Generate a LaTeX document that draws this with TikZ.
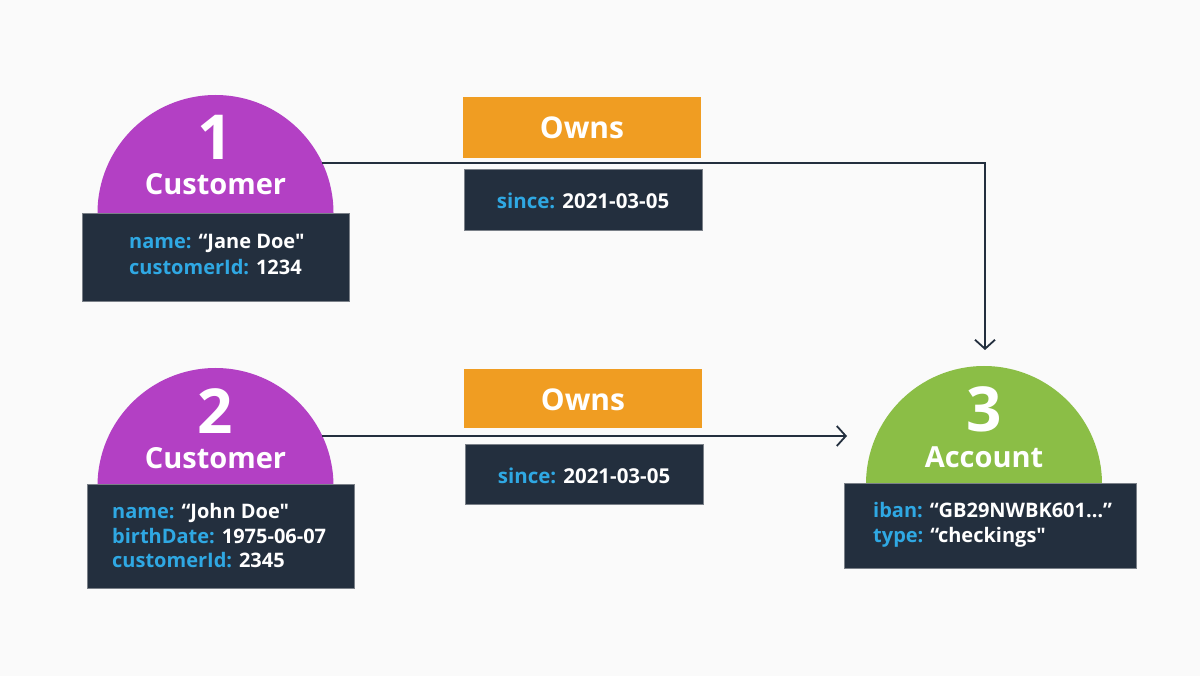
\documentclass[tikz,border=0pt]{standalone}
\usepackage{fontspec}
\newfontfamily\oss{Open Sans}
\usetikzlibrary{arrows.meta,calc}
\definecolor{bg}{HTML}{FAFAFA}
\definecolor{purp}{HTML}{B340C4}
\definecolor{grn}{HTML}{8BBE46}
\definecolor{org}{HTML}{F09D22}
\definecolor{ink}{HTML}{232F3E}
\definecolor{key}{HTML}{2FA8E3}
\definecolor{edge}{HTML}{7A8088}
\newcommand{\kk}[1]{\textcolor{key}{#1}}
\begin{document}
\begin{tikzpicture}[x=1pt,y=-1pt,
  propbox/.style={fill=ink,draw=edge,line width=0.7pt,inner sep=0pt},
  relbox/.style={fill=org,draw=none,inner sep=0pt},
  proptext/.style={anchor=base west,inner sep=0pt,text=white,font=\oss\bfseries\fontsize{20}{22}\selectfont},
  sincetext/.style={anchor=base,inner sep=0pt,text=white,font=\oss\bfseries\fontsize{20.5}{24}\selectfont},
  numtext/.style={anchor=base,inner sep=0pt,text=white,font=\oss\bfseries\fontsize{62}{70}\selectfont},
  labtext/.style={anchor=base,inner sep=0pt,text=white,font=\oss\bfseries\fontsize{29}{34}\selectfont},
  owntext/.style={anchor=base,inner sep=0pt,text=white,font=\oss\bfseries\fontsize{30}{34}\selectfont},
  conn/.style={draw=ink,line width=1.8pt,-{Straight Barb[length=9pt,width=20pt,line width=1.8pt]}}]
\useasboundingbox (0,0) rectangle (1200,676);
\fill[bg] (0,0) rectangle (1200,676);

% semicircles
\coordinate (c1) at (215.5,213);
\coordinate (c2) at (215.5,486);
\coordinate (c3) at (984,484);
\fill[purp] ($(c1)+(-118,0)$) arc[start angle=180,end angle=0,radius=118pt] -- cycle;
\fill[purp] ($(c2)+(-118,0)$) arc[start angle=180,end angle=0,radius=118pt] -- cycle;
\fill[grn] ($(c3)+(-118,0)$) arc[start angle=180,end angle=0,radius=118pt] -- cycle;

% connectors
\coordinate (o1) at (322,163);
\coordinate (bend1) at (985,163);
\coordinate (t1) at (985,350);
\coordinate (o2) at (322,436);
\coordinate (t2) at (847,436);
\draw[conn] (o1) -- (bend1) -- (t1);
\draw[conn] (o2) -- (t2);

% node labels
\node[numtext] (n1) at (215.5,160) {1};
\node[labtext] (l1) at (215.5,195) {Customer};
\node[numtext] (n2) at (215.5,433) {2};
\node[labtext] (l2) at (215.5,468) {Customer};
\node[numtext] (n3) at (984,431) {3};
\node[labtext] (l3) at (984,467) {Account};

% property boxes
\node[propbox,minimum width=267pt,minimum height=88pt] (p1) at (215.5,257) {};
\node[proptext] (p1a) at (129,249) {\kk{name:} “Jane Doe"};
\node[proptext] (p1b) at (129,275) {\kk{customerId:} 1234};

\node[propbox,minimum width=267pt,minimum height=104pt] (p2) at (220.5,536) {};
\node[proptext] (p2a) at (112,518) {\kk{name:} “John Doe"};
\node[proptext] (p2b) at (112,543) {\kk{birthDate:} 1975-06-07};
\node[proptext] (p2c) at (112,567) {\kk{customerId:} 2345};

\node[propbox,minimum width=292pt,minimum height=85pt] (p3) at (990,525.5) {};
\node[proptext] (p3a) at (873,517) {\kk{iban:} “GB29NWBK601…”};
\node[proptext] (p3b) at (873,542) {\kk{type:} “checkings"};

% relationship boxes
\node[relbox,minimum width=238pt,minimum height=61pt] (r1) at (582,127.5) {};
\node[owntext] (r1t) at (582,139) {Owns};
\node[propbox,minimum width=238pt,minimum height=61pt] (s1) at (583,199.5) {};
\node[sincetext] (s1t) at (583,209) {\kk{since:} 2021-03-05};

\node[relbox,minimum width=238pt,minimum height=59pt] (r2) at (583,398.5) {};
\node[owntext] (r2t) at (583,410) {Owns};
\node[propbox,minimum width=238pt,minimum height=60pt] (s2) at (584,474) {};
\node[sincetext] (s2t) at (584,483) {\kk{since:} 2021-03-05};
\end{tikzpicture}
\end{document}
